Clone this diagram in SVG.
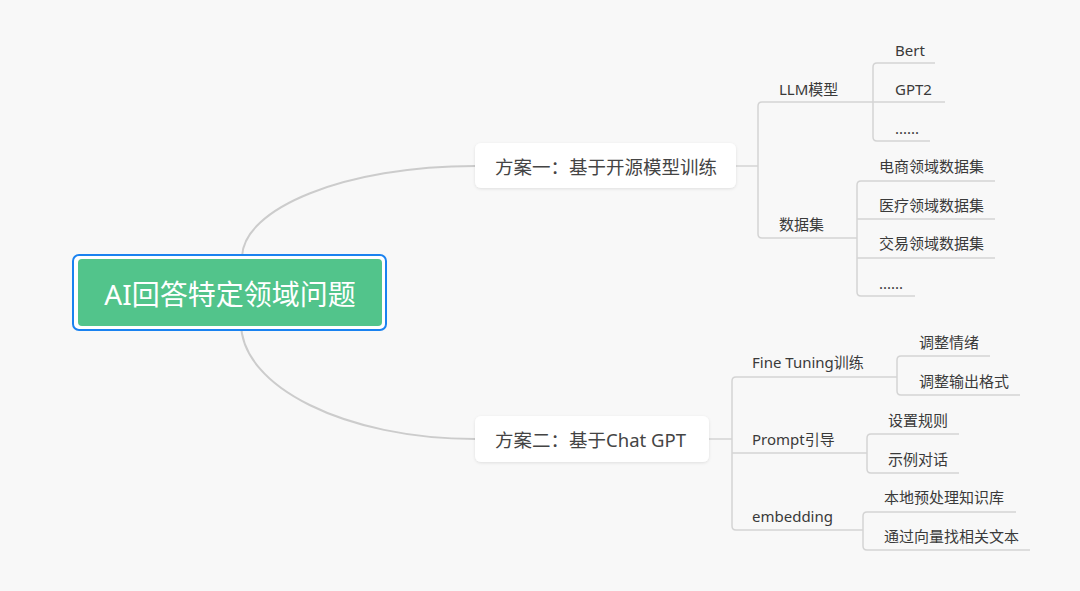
<svg xmlns="http://www.w3.org/2000/svg" width="1080" height="591" viewBox="0 0 1080 591">
<defs>
<filter id="sh" x="-10%" y="-30%" width="120%" height="160%">
<feDropShadow dx="0" dy="1" stdDeviation="1.5" flood-color="#000" flood-opacity="0.10"/>
</filter>
<style>
.ln{fill:none;stroke:#d4d4d4;stroke-width:1.5}
.cv{fill:none;stroke:#cccccc;stroke-width:2}
.t{font-family:"Noto Sans","Noto Sans CJK SC",sans-serif;font-size:15px;fill:#3a3a3a}
.b{font-family:"Noto Sans","Noto Sans CJK SC",sans-serif;font-size:18.5px;fill:#444;dominant-baseline:central}
.r{font-family:"Noto Sans","Noto Sans CJK SC",sans-serif;font-size:28px;fill:#ffffff;dominant-baseline:central;text-anchor:middle}
</style>
</defs>
<rect width="1080" height="591" fill="#f8f8f8"/>
<g id="connectors">
<path class="cv" d="M242 258 C242 208 346 166 475 166"/>
<path class="cv" d="M241 323 C241 387 346 439 475 439"/>
<path class="ln" d="M736 166 H758"/>
<path class="ln" d="M873 102 H762 Q758 102 758 106 V234 Q758 238 762 238 H857"/>
<path class="ln" d="M935 63 H877 Q873 63 873 67 V137 Q873 141 877 141 H930"/>
<path class="ln" d="M873 102 H945"/>
<path class="ln" d="M995 181 H861 Q857 181 857 185 V292 Q857 296 861 296 H915"/>
<path class="ln" d="M857 219 H995"/>
<path class="ln" d="M857 258 H995"/>
<path class="ln" d="M709 439 H732"/>
<path class="ln" d="M897 377 H736 Q732 377 732 381 V526 Q732 530 736 530 H863"/>
<path class="ln" d="M732 453 H867"/>
<path class="ln" d="M990 356 H901 Q897 356 897 360 V391 Q897 395 901 395 H1020"/>
<path class="ln" d="M959 434 H871 Q867 434 867 438 V469 Q867 473 871 473 H959"/>
<path class="ln" d="M1016 512 H867 Q863 512 863 516 V546 Q863 550 867 550 H1030"/>
</g>
<g id="root">
<rect x="73" y="255" width="313" height="75" rx="6" fill="#ffffff" stroke="#1a82f0" stroke-width="2"/>
<rect x="78" y="259" width="304" height="67" rx="4" fill="#52c48b"/>
<text class="r" x="230" y="294">AI回答特定领域问题</text>
</g>
<g id="branch1">
<rect x="475" y="143" width="261" height="45" rx="6" fill="#ffffff" filter="url(#sh)"/>
<text class="b" x="495" y="166">方案一：基于开源模型训练</text>
</g>
<g id="branch2">
<rect x="475" y="416" width="234" height="46" rx="6" fill="#ffffff" filter="url(#sh)"/>
<text class="b" x="495" y="439">方案二：基于Chat GPT</text>
</g>
<g id="llm"><text class="t" x="779" y="95">LLM模型</text></g>
<g id="bert"><text class="t" x="895" y="56">Bert</text></g>
<g id="gpt2"><text class="t" x="895" y="95">GPT2</text></g>
<g id="more1"><text class="t" x="895" y="134">......</text></g>
<g id="dataset"><text class="t" x="779" y="230">数据集</text></g>
<g id="ds1"><text class="t" x="879" y="172">电商领域数据集</text></g>
<g id="ds2"><text class="t" x="879" y="211">医疗领域数据集</text></g>
<g id="ds3"><text class="t" x="879" y="249">交易领域数据集</text></g>
<g id="more2"><text class="t" x="879" y="289">......</text></g>
<g id="finetune"><text class="t" x="752" y="368">Fine Tuning训练</text></g>
<g id="ft1"><text class="t" x="919" y="348">调整情绪</text></g>
<g id="ft2"><text class="t" x="919" y="387">调整输出格式</text></g>
<g id="prompt"><text class="t" x="752" y="445">Prompt引导</text></g>
<g id="p1"><text class="t" x="888" y="426">设置规则</text></g>
<g id="p2"><text class="t" x="888" y="465">示例对话</text></g>
<g id="embedding"><text class="t" x="752" y="522">embedding</text></g>
<g id="e1"><text class="t" x="884" y="503">本地预处理知识库</text></g>
<g id="e2"><text class="t" x="884" y="542">通过向量找相关文本</text></g>
</svg>
